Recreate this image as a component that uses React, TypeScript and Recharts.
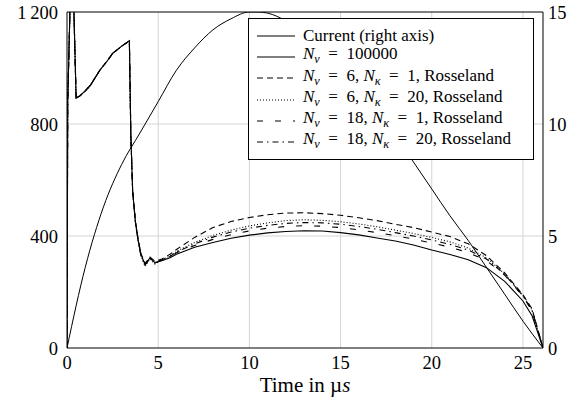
import React from "react";
import { Line, LineChart, ReferenceLine, XAxis, YAxis } from "recharts";

// time axis in microseconds, shared by the five intensity curves
const timeUs = [
  0, 0.04, 0.16, 0.27, 0.38, 0.5, 0.7, 1.0, 1.3, 1.8, 2.2, 2.5, 3.0, 3.42, 3.5, 3.6, 3.75, 3.9,
  4.05, 4.28, 4.55, 4.82, 5.2, 5.65, 6, 7, 8, 9, 10, 11, 12, 13, 14, 15, 16, 17, 18, 19, 20, 21,
  22, 23, 24, 25, 25.5, 26.1,
];

const nu100000 = [
  0, 880, 1200, 1480, 1200, 893, 900, 918, 940, 992, 1025, 1052, 1078, 1097, 760, 560, 450, 385,
  335, 298, 322, 305, 312, 322, 335, 360, 377, 392, 403, 411, 416, 419, 418, 412, 404, 393, 382,
  368, 350, 334, 315, 287, 238, 168, 115, 0,
];
const nu6k1 = [
  0, 880, 1200, 1480, 1200, 893, 900, 918, 940, 992, 1025, 1052, 1078, 1097, 765, 565, 455, 390,
  338, 302, 325, 310, 318, 335, 352, 395, 430, 452, 466, 476, 482, 483, 480, 474, 465, 455, 442,
  430, 414, 398, 372, 330, 268, 190, 140, 0,
];
const nu6k20 = [
  0, 880, 1200, 1480, 1200, 893, 900, 918, 940, 992, 1025, 1052, 1078, 1097, 758, 555, 448, 380,
  330, 292, 318, 300, 316, 328, 345, 377, 402, 421, 436, 447, 455, 458, 456, 451, 443, 433, 421,
  409, 395, 379, 357, 322, 265, 188, 135, 0,
];
const nu18k1 = [
  0, 880, 1200, 1480, 1200, 893, 900, 918, 940, 992, 1025, 1052, 1078, 1097, 762, 562, 452, 386,
  334, 300, 320, 304, 314, 325, 340, 366, 388, 405, 418, 428, 434, 437, 435, 430, 422, 412, 401,
  389, 375, 360, 341, 312, 260, 185, 133, 0,
];
const nu18k20 = [
  0, 880, 1200, 1480, 1200, 893, 900, 918, 940, 992, 1025, 1052, 1078, 1097, 760, 558, 450, 383,
  332, 296, 321, 303, 315, 327, 343, 372, 396, 414, 428, 438, 445, 448, 447, 442, 434, 424, 412,
  400, 386, 370, 350, 318, 263, 186, 134, 0,
];

// current (right axis)
const currentTime = [
  0, 1, 2, 3, 4, 5, 6, 7, 8, 9, 10, 10.5, 11, 12, 13, 14, 15, 16, 17, 18, 19, 20, 21, 22, 23, 24,
  25, 26.1,
];
const currentAmp = [
  0, 3.6, 6.3, 8.2, 9.6, 11.0, 12.4, 13.4, 14.2, 14.7, 15.0, 15.0, 14.95, 14.6, 14.0, 13.3, 12.5,
  11.6, 10.6, 9.5, 8.3, 7.1, 5.9, 4.8, 3.6, 2.4, 1.2, 0,
];

const xTicks = [0, 5, 10, 15, 20, 25];
const leftTicks = [0, 400, 800, 1200];
const rightTicks = [0, 5, 10, 15];

const rows = timeUs.map((t, i) => ({
  t,
  a: nu100000[i],
  b: nu6k1[i],
  c: nu6k20[i],
  d: nu18k1[i],
  e: nu18k20[i],
}));
const currentRows = currentTime.map((t, i) => ({ t, amp: currentAmp[i] }));

const FONT = "'Liberation Serif', 'DejaVu Serif', serif";
const EQ = "\u2002=\u2002";

const Nnu = () => (
  <>
    <i>N</i>
    <sub style={{ fontSize: "0.72em" }}>
      <i>ν</i>
    </sub>
  </>
);
const Nk = () => (
  <>
    <i>N</i>
    <sub style={{ fontSize: "0.72em" }}>
      <i>κ</i>
    </sub>
  </>
);

const legendItems: { dash?: string; label: React.ReactNode }[] = [
  { label: "Current (right axis)" },
  { label: (<><Nnu />{EQ}100000</>) },
  { dash: "6 4", label: (<><Nnu />{EQ}6, <Nk />{EQ}1, Rosseland</>) },
  { dash: "1 2", label: (<><Nnu />{EQ}6, <Nk />{EQ}20, Rosseland</>) },
  { dash: "6 12", label: (<><Nnu />{EQ}18, <Nk />{EQ}1, Rosseland</>) },
  { dash: "6 4 1.5 4", label: (<><Nnu />{EQ}18, <Nk />{EQ}20, Rosseland</>) },
];

function LegendBox() {
  return (
    <div
      style={{
        position: "absolute",
        left: 248,
        top: 18,
        width: 286,
        height: 142,
        background: "#fff",
        border: "1px solid #000",
        padding: "6px 0 0 8px",
        fontFamily: FONT,
        fontSize: 17,
        color: "#000",
        boxSizing: "border-box",
      }}
    >
      {legendItems.map((it, i) => (
        <div key={i} style={{ display: "flex", alignItems: "center", height: 21.3, whiteSpace: "nowrap" }}>
          <svg width={38} height={10} style={{ marginRight: 8, flex: "none" }}>
            <line x1={0} y1={5} x2={38} y2={5} stroke="#000" strokeWidth={1.1} strokeDasharray={it.dash} />
          </svg>
          <span style={{ lineHeight: "16px" }}>{it.label}</span>
        </div>
      ))}
    </div>
  );
}

export default function App() {
  return (
    <div style={{ position: "absolute", left: 0, top: 0, width: 584, height: 410, background: "#fff" }}>
      <LineChart
        width={584}
        height={410}
        data={rows}
        margin={{ top: 12, right: 0, bottom: 0, left: 0 }}
        style={{ fontFamily: FONT }}
      >
        <XAxis
          dataKey="t"
          type="number"
          domain={[0, 26.1]}
          ticks={xTicks}
          interval={0}
          allowDataOverflow
          height={62}
          tickSize={0}
          tickMargin={8}
          axisLine={{ stroke: "#000", strokeWidth: 1 }}
          tick={{ fill: "#000", fontSize: 18.5, fontFamily: FONT }}
          label={{
            content: (props: any) => {
              const vb = props.viewBox || { x: 67, y: 348, width: 476 };
              return (
                <text
                  x={vb.x + vb.width / 2}
                  y={vb.y + 44}
                  textAnchor="middle"
                  fill="#000"
                  fontSize={21}
                  fontFamily={FONT}
                >
                  Time in µ<tspan fontStyle="italic">s</tspan>
                </text>
              );
            },
          }}
        />
        <YAxis
          yAxisId="left"
          domain={[0, 1200]}
          ticks={leftTicks}
          interval={0}
          allowDataOverflow
          width={67}
          tickSize={0}
          tickMargin={9}
          axisLine={{ stroke: "#000", strokeWidth: 1 }}
          tick={{ fill: "#000", fontSize: 18.5, fontFamily: FONT }}
          tickFormatter={(v: number) => (v >= 1000 ? "1\u2009200" : String(v))}
        />
        <YAxis
          yAxisId="right"
          orientation="right"
          domain={[0, 15]}
          ticks={rightTicks}
          interval={0}
          allowDataOverflow
          width={41}
          tickSize={0}
          tickMargin={5}
          axisLine={{ stroke: "#000", strokeWidth: 1 }}
          tick={{ fill: "#000", fontSize: 18.5, fontFamily: FONT }}
        />
        {xTicks.slice(1).map((x) => (
          <ReferenceLine key={"gx" + x} yAxisId="left" x={x} stroke="#d4d4d4" strokeWidth={1} />
        ))}
        {leftTicks.slice(1, -1).map((y) => (
          <ReferenceLine key={"gy" + y} yAxisId="left" y={y} stroke="#d4d4d4" strokeWidth={1} />
        ))}
        <ReferenceLine yAxisId="left" y={1200} stroke="#000" strokeWidth={1} />
        <Line
          yAxisId="right"
          data={currentRows}
          dataKey="amp"
          type="monotone"
          stroke="#000"
          strokeWidth={1}
          dot={false}
          isAnimationActive={false}
        />
        <Line yAxisId="left" dataKey="a" type="linear" stroke="#000" strokeWidth={1.1} dot={false} isAnimationActive={false} />
        <Line yAxisId="left" dataKey="b" type="linear" stroke="#000" strokeWidth={1.1} strokeDasharray="6 4" dot={false} isAnimationActive={false} />
        <Line yAxisId="left" dataKey="c" type="linear" stroke="#000" strokeWidth={1.1} strokeDasharray="1 2" dot={false} isAnimationActive={false} />
        <Line yAxisId="left" dataKey="d" type="linear" stroke="#000" strokeWidth={1.1} strokeDasharray="6 12" dot={false} isAnimationActive={false} />
        <Line yAxisId="left" dataKey="e" type="linear" stroke="#000" strokeWidth={1.1} strokeDasharray="6 4 1.5 4" dot={false} isAnimationActive={false} />
      </LineChart>
      <LegendBox />
    </div>
  );
}
